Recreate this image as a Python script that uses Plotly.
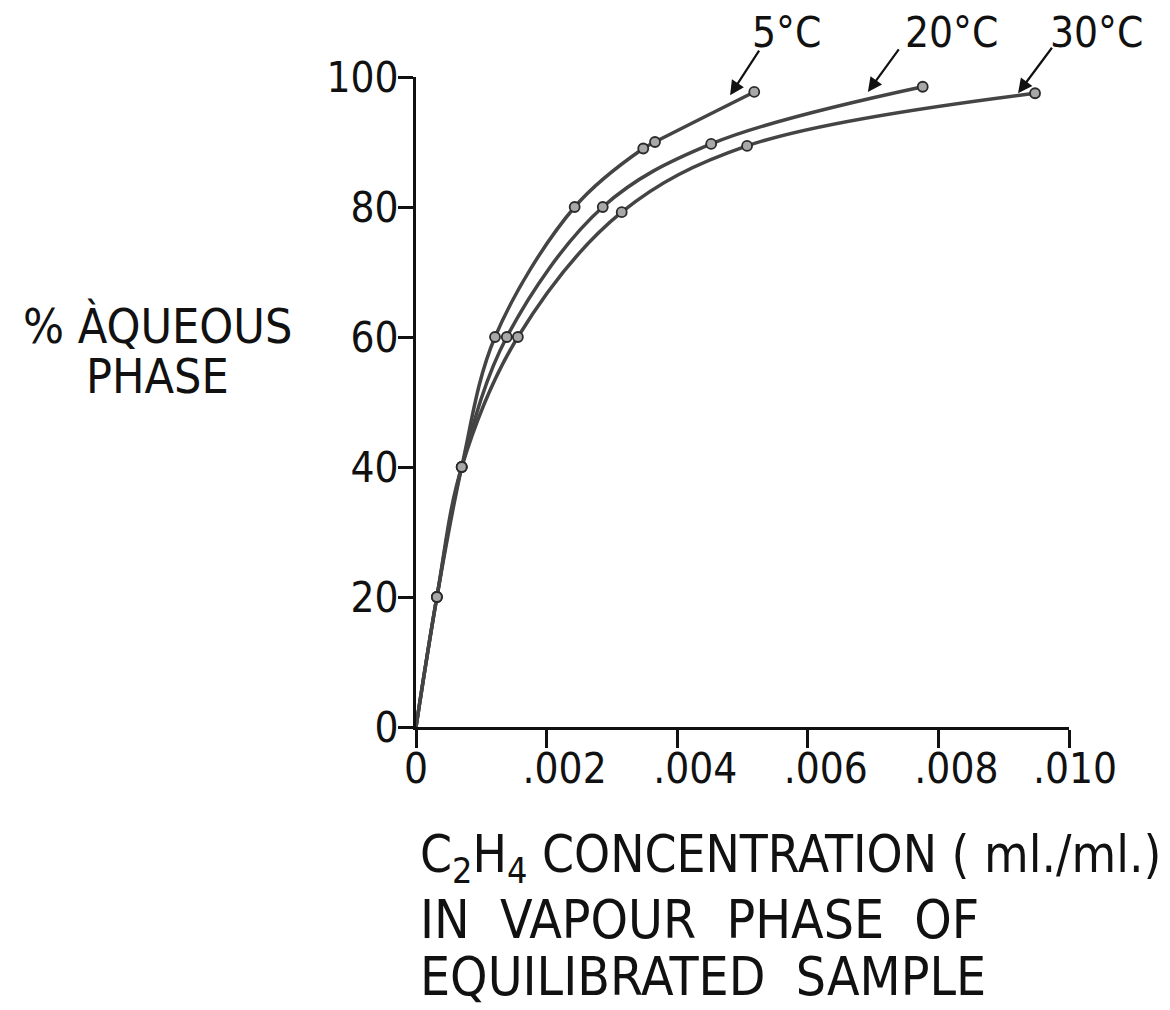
import plotly.graph_objects as go

# Ethylene partition: % in aqueous phase vs. vapour-phase concentration
temps = ["5°C", "20°C", "30°C"]
conc_5 = [0.0, 0.00032, 0.00070, 0.00121, 0.00243, 0.00348, 0.00366, 0.00518]
pct_5 = [0, 20, 40, 60, 80, 89, 90, 97.7]
conc_20 = [0.0, 0.00032, 0.00070, 0.00139, 0.00286, 0.00452, 0.00776]
pct_20 = [0, 20, 40, 60, 80, 89.7, 98.5]
conc_30 = [0.0, 0.00032, 0.00070, 0.00156, 0.00315, 0.00507, 0.00948]
pct_30 = [0, 20, 40, 60, 79.2, 89.4, 97.5]

# where each temperature label's arrow points on its curve
arrow_x = [0.00481, 0.00692, 0.00922]
arrow_y = [97.2, 97.7, 97.5]

x_ticks = [0, 0.002, 0.004, 0.006, 0.008, 0.010]
x_tick_text = ["0", ".002", ".004", ".006", ".008", ".010"]
y_ticks = [0, 20, 40, 60, 80, 100]
y_tick_text = ["0", "20", "40", "60", "80", "100"]

y_title_lines = ["% ÀQUEOUS", "PHASE"]
x_title_lines = ["C<sub>2</sub>H<sub>4</sub> CONCENTRATION ( ml./ml.)",
                 "IN  VAPOUR  PHASE  OF",
                 "EQUILIBRATED  SAMPLE"]

FONT = "Liberation Sans Narrow, DejaVu Sans Condensed, Liberation Sans, sans-serif"
LINE = "#444444"
INK = "#111111"

# plot area in page pixels
L, R, T, B = 416, 1069, 77, 727
W, H = 1170, 1010


def px(xp):
    return (xp - L) / (R - L)


def py(yp):
    return (B - yp) / (B - T)


# hand-lettered tick labels sit a little right of their ticks
pad = ["", "\u2007\u00a0", "\u2007\u00a0", "\u2007\u00a0", "\u2007\u00a0", "\u00a0"]
x_tick_labels = [p + t for p, t in zip(pad, x_tick_text)]

fig = go.Figure()
for xs, ys in [(conc_5, pct_5), (conc_20, pct_20), (conc_30, pct_30)]:
    fig.add_trace(go.Scatter(
        x=xs, y=ys, mode="lines",
        line=dict(shape="spline", smoothing=1.0, color=LINE, width=3.5),
        hoverinfo="skip", showlegend=False))
    fig.add_trace(go.Scatter(
        x=xs[1:], y=ys[1:], mode="markers",
        marker=dict(symbol="circle", size=10, color="#a8a8a8",
                    line=dict(color="#2a2a2a", width=1.8)),
        showlegend=False))

# temperature labels, each with an arrow down to its curve
arrow_tails = [(30, -46), (32, -44), (35, -47)]
label_pos = [(786, 32), (951, 32), (1096, 32)]
for t, xa, ya, (dx, dy), (lx, ly) in zip(temps, arrow_x, arrow_y,
                                         arrow_tails, label_pos):
    fig.add_annotation(x=xa, y=ya, ax=dx, ay=dy, text="",
                       showarrow=True, arrowhead=2, arrowsize=1.3,
                       arrowwidth=2.2, arrowcolor=INK)
    fig.add_annotation(xref="paper", yref="paper", x=px(lx), y=py(ly),
                       xanchor="center", yanchor="middle", text=t,
                       showarrow=False,
                       font=dict(family=FONT, size=42, color=INK))

# y-axis title, two centred lines to the left of the axis
for line, yc in zip(y_title_lines, [326, 376]):
    fig.add_annotation(xref="paper", yref="paper", x=px(157), y=py(yc),
                       xanchor="center", yanchor="middle", text=line,
                       showarrow=False,
                       font=dict(family=FONT, size=48, color=INK))

# x-axis title, three left-aligned lines under the axis
for line, yc, fs in zip(x_title_lines, [858, 919, 976], [51, 53, 53]):
    fig.add_annotation(xref="paper", yref="paper", x=px(418), y=py(yc),
                       xanchor="left", yanchor="middle", text=line,
                       showarrow=False,
                       font=dict(family=FONT, size=fs, color=INK))

fig.update_xaxes(range=[0, 0.010], tickvals=x_ticks, ticktext=x_tick_labels,
                 showgrid=False, zeroline=False, showline=True,
                 linecolor=INK, linewidth=3, ticks="outside",
                 ticklen=18, tickwidth=3, tickcolor=INK,
                 ticklabelstandoff=-15,
                 tickfont=dict(family=FONT, size=42, color=INK))
fig.update_yaxes(range=[0, 100], tickvals=y_ticks, ticktext=y_tick_text,
                 showgrid=False, zeroline=False, showline=True,
                 linecolor=INK, linewidth=3, ticks="outside",
                 ticklen=15, tickwidth=3, tickcolor=INK,
                 ticklabelstandoff=-9,
                 tickfont=dict(family=FONT, size=42, color=INK))

fig.update_layout(width=W, height=H,
                  margin=dict(l=L, r=W - R, t=T, b=H - B),
                  paper_bgcolor="white", plot_bgcolor="white")

fig.write_html("out.html")
